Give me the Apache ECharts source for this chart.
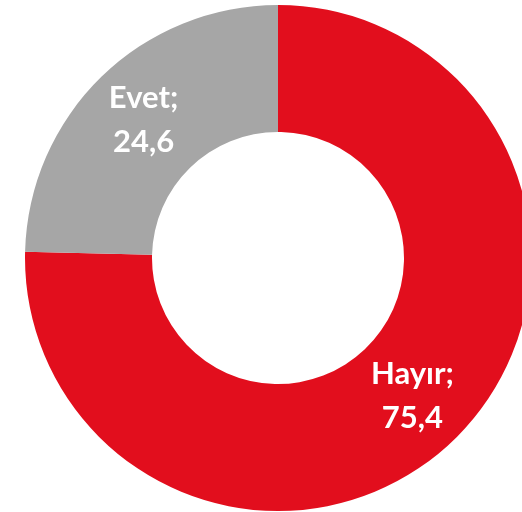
<!DOCTYPE html>
<html>
<head>
<meta charset="utf-8">
<script src="https://cdn.jsdelivr.net/npm/echarts@6/dist/echarts.min.js"></script>
<style>
  html, body { margin: 0; padding: 0; background: #fff; }
  #chart { width: 522px; height: 512px; }
</style>
</head>
<body>
<div id="chart"></div>
<script>
const categories = ['Hayır', 'Evet'];
const values = [75.4, 24.6];
const colors = ['#E20E1D', '#A6A6A6'];

const chart = echarts.init(document.getElementById('chart'));
chart.setOption({
  animation: false,
  series: [
    {
      type: 'pie',
      center: [278, 258],
      radius: [126, 253],
      startAngle: 90,
      clockwise: true,
      silent: true,
      data: categories.map((name, i) => ({
        name: name,
        value: values[i],
        itemStyle: { color: colors[i] }
      })),
      label: {
        show: true,
        position: 'inside',
        color: '#fff',
        fontFamily: 'Lato',
        fontWeight: 'bold',
        fontSize: 31,
        lineHeight: 44,
        formatter: p => p.name + ';\n' + String(p.value).replace('.', ',')
      },
      labelLine: { show: false }
    }
  ]
});
</script>
</body>
</html>
